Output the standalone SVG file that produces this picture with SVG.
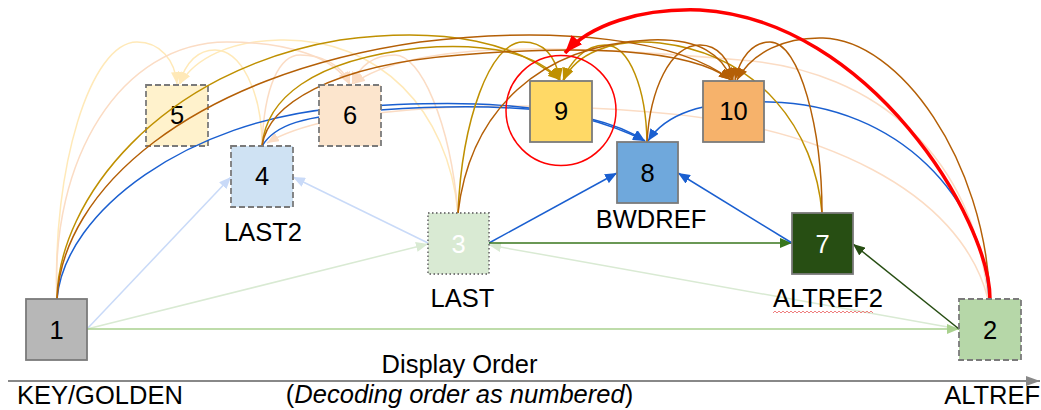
<svg xmlns="http://www.w3.org/2000/svg" width="1041" height="410" viewBox="0 0 1041 410">
  <defs>
    <style>
      text { font-family: "Liberation Sans", Arial, sans-serif; font-size: 25.5px; fill: #000; }
      .num { text-anchor: middle; }
      .lbl { text-anchor: middle; }
      .box { stroke: #7a7a7a; stroke-width: 1.8; }
      .dash { stroke-dasharray: 6 3; }
      .dot { stroke-dasharray: 1.5 2.5; }
      .arc { fill: none; stroke-width: 1.5; }
      .ly { stroke: #ffe9b8; }
      .lo { stroke: #fbdcc4; }
      .gold { stroke: #bf9000; }
      .brown { stroke: #b45f06; }
      .blue { stroke: #1a5fd0; }
      .lblue { stroke: #c9daf8; }
      .lgreen { stroke: #d9ead3; }
      .green { stroke: #a9d18e; }
      .dgreen { stroke: #38761d; }
      .dgreen2 { stroke: #274e13; }
    </style>
    <marker id="a-ly" viewBox="0 0 12 10" refX="12" refY="5" markerWidth="12" markerHeight="10" markerUnits="userSpaceOnUse" orient="auto"><path d="M0,0 L12,5 L0,10 z" fill="#ffe9b8"/></marker>
    <marker id="a-lo" viewBox="0 0 12 10" refX="12" refY="5" markerWidth="12" markerHeight="10" markerUnits="userSpaceOnUse" orient="auto"><path d="M0,0 L12,5 L0,10 z" fill="#fbdcc4"/></marker>
    <marker id="a-gold" viewBox="0 0 12 10" refX="12" refY="5" markerWidth="12" markerHeight="10" markerUnits="userSpaceOnUse" orient="auto"><path d="M0,0 L12,5 L0,10 z" fill="#bf9000"/></marker>
    <marker id="a-brown" viewBox="0 0 12 10" refX="12" refY="5" markerWidth="12" markerHeight="10" markerUnits="userSpaceOnUse" orient="auto"><path d="M0,0 L12,5 L0,10 z" fill="#b45f06"/></marker>
    <marker id="a-blue" viewBox="0 0 12 10" refX="12" refY="5" markerWidth="12" markerHeight="10" markerUnits="userSpaceOnUse" orient="auto"><path d="M0,0 L12,5 L0,10 z" fill="#1a5fd0"/></marker>
    <marker id="a-lblue" viewBox="0 0 12 10" refX="12" refY="5" markerWidth="12" markerHeight="10" markerUnits="userSpaceOnUse" orient="auto"><path d="M0,0 L12,5 L0,10 z" fill="#c9daf8"/></marker>
    <marker id="a-lgreen" viewBox="0 0 12 10" refX="12" refY="5" markerWidth="12" markerHeight="10" markerUnits="userSpaceOnUse" orient="auto"><path d="M0,0 L12,5 L0,10 z" fill="#d9ead3"/></marker>
    <marker id="a-green" viewBox="0 0 12 10" refX="12" refY="5" markerWidth="12" markerHeight="10" markerUnits="userSpaceOnUse" orient="auto"><path d="M0,0 L12,5 L0,10 z" fill="#a9d18e"/></marker>
    <marker id="a-dgreen" viewBox="0 0 12 10" refX="12" refY="5" markerWidth="12" markerHeight="10" markerUnits="userSpaceOnUse" orient="auto"><path d="M0,0 L12,5 L0,10 z" fill="#38761d"/></marker>
    <marker id="a-dgreen2" viewBox="0 0 12 10" refX="12" refY="5" markerWidth="12" markerHeight="10" markerUnits="userSpaceOnUse" orient="auto"><path d="M0,0 L12,5 L0,10 z" fill="#274e13"/></marker>
    <marker id="a-red" viewBox="0 0 18 14" refX="18" refY="7" markerWidth="18" markerHeight="14" markerUnits="userSpaceOnUse" orient="auto"><path d="M0,0 L18,7 L0,14 z" fill="#ff0000"/></marker>
    <marker id="a-axis" viewBox="0 0 14 10" refX="14" refY="5" markerWidth="14" markerHeight="10" markerUnits="userSpaceOnUse" orient="auto"><path d="M0,0 L14,5 L0,10 z" fill="#888888"/></marker>
  </defs>

  <rect width="1041" height="410" fill="#ffffff"/>

  <!-- frame 5 sits beneath the reference arcs -->
  <g id="node5">
    <rect class="box dash" x="146" y="85" width="62" height="61" fill="#fff2cc"/>
    <text class="num" x="177" y="124">5</text>
  </g>

  <g id="connectors">
    <!-- references of frame 5 -->
    <path class="arc ly" d="M57,299 C52,170 90,42 137,42 C160,42 175,60 177,84" marker-end="url(#a-ly)"/>
    <path class="arc ly" d="M262,146 C262,90 240,50 215,50 C198,50 186,62 179,84" marker-end="url(#a-ly)"/>
    <path class="arc ly" d="M458,213 C448,110 380,38 280,40 C230,41 195,58 180,84" marker-end="url(#a-ly)"/>
    <!-- references of frame 6 -->
    <path class="arc lo" d="M57,299 C50,160 120,42 227,42 C290,42 335,58 349,84" marker-end="url(#a-lo)"/>
    <path class="arc lo" d="M262,146 C264,85 280,55 300,55 C322,55 342,65 350,84" marker-end="url(#a-lo)"/>
    <path class="arc lo" d="M458,213 C450,120 420,55 395,55 C375,55 360,65 352,84" marker-end="url(#a-lo)"/>
    <path class="arc lo" d="M988,299 C975,160 880,70 740,60 C600,48 420,35 353,84" marker-end="url(#a-lo)"/>
    <path class="arc lo" d="M988,299 C960,190 820,125 650,112 C500,100 330,105 267,143" marker-end="url(#a-lo)"/>

    <!-- straight references -->
    <path class="arc lblue" d="M87,329 L231,177" marker-end="url(#a-lblue)"/>
    <path class="arc lblue" d="M428,243 L293,177" marker-end="url(#a-lblue)"/>
    <path class="arc lgreen" d="M87,329 L428,244" marker-end="url(#a-lgreen)"/>
    <path class="arc lgreen" d="M959,329 L489,245" marker-end="url(#a-lgreen)"/>
    <path class="arc green" d="M87,329 L959,329" marker-end="url(#a-green)"/>
    <path class="arc blue" d="M489,243 L617,173" marker-end="url(#a-blue)"/>
    <path class="arc dgreen" d="M489,243 L792,243" marker-end="url(#a-dgreen)"/>
    <path class="arc blue" d="M792,243 L678,173" marker-end="url(#a-blue)"/>
    <path class="arc dgreen2" d="M959,329 L853,244" marker-end="url(#a-dgreen2)"/>

    <!-- references of frame 8 -->
    <path class="arc blue" d="M57,299 C65,210 190,120 340,108 C450,100 560,98 645,141" marker-end="url(#a-blue)"/>
    <path class="arc blue" d="M262,146 C275,125 300,116 380,110 C480,103 590,105 645,141" marker-end="url(#a-blue)"/>
    <path class="arc blue" d="M989,299 C985,200 900,105 770,102 C700,100 665,115 648,141" marker-end="url(#a-blue)"/>

    <!-- references of frame 9 -->
    <path class="arc gold" d="M57,299 C58,200 160,70 340,40 C450,25 520,45 560,80" marker-end="url(#a-gold)"/>
    <path class="arc gold" d="M262,146 C266,100 310,60 420,48 C490,42 540,55 559,80" marker-end="url(#a-gold)"/>
    <path class="arc gold" d="M458,213 C462,120 490,42 523,42 C545,42 556,58 560,80" marker-end="url(#a-gold)"/>
    <path class="arc gold" d="M647,142 C646,90 630,45 605,45 C585,45 570,62 563,80" marker-end="url(#a-gold)"/>
    <path class="arc gold" d="M822,213 C815,130 760,55 660,43 C610,38 575,55 564,80" marker-end="url(#a-gold)"/>

    <!-- references of frame 10 -->
    <path class="arc brown" d="M57,299 C62,190 190,75 420,42 C560,25 680,40 731,80" marker-end="url(#a-brown)"/>
    <path class="arc brown" d="M262,146 C268,105 330,65 460,55 C580,45 690,48 731,80" marker-end="url(#a-brown)"/>
    <path class="arc brown" d="M458,213 C470,110 540,45 650,40 C700,38 722,55 732,80" marker-end="url(#a-brown)"/>
    <path class="arc brown" d="M647,142 C650,90 670,45 700,45 C718,45 730,60 733,80" marker-end="url(#a-brown)"/>
    <path class="arc brown" d="M822,213 C822,130 800,42 770,42 C752,42 740,58 735,80" marker-end="url(#a-brown)"/>
    <path class="arc brown" d="M990,299 C985,160 900,40 823,38 C785,37 752,52 737,80" marker-end="url(#a-brown)"/>

    <!-- highlighted reference from ALTREF -->
    <path fill="none" stroke="#ff0000" stroke-width="3.5" d="M990,299 C990,220 870,20 700,10 C640,8 590,25 565,53" marker-end="url(#a-red)"/>
  </g>

  <g id="node1">
    <rect class="box" x="26" y="299" width="61" height="61" fill="#b7b7b7"/>
    <text class="num" x="56.5" y="338.5">1</text>
  </g>
  <g id="node2">
    <rect class="box dash" x="959" y="299" width="62" height="61" fill="#b6d7a8"/>
    <text class="num" x="990" y="338.5">2</text>
  </g>
  <g id="node3">
    <rect class="box dot" x="428" y="213" width="61" height="61" fill="#d9ead3"/>
    <text class="num" x="458.5" y="252.5" style="fill:#ffffff">3</text>
  </g>
  <g id="node4">
    <rect class="box dash" x="231" y="146" width="62" height="61" fill="#cfe2f3"/>
    <text class="num" x="262" y="185">4</text>
  </g>
  <g id="node6">
    <rect class="box dash" x="319" y="85" width="62" height="61" fill="#fce5cd"/>
    <text class="num" x="350" y="124">6</text>
  </g>
  <g id="node7">
    <rect class="box" x="792" y="213" width="61" height="61" fill="#274e13"/>
    <text class="num" x="822.5" y="252.5" style="fill:#ffffff">7</text>
  </g>
  <g id="node8">
    <rect class="box" x="617" y="142" width="61" height="61" fill="#6fa8dc"/>
    <text class="num" x="647.5" y="181.5">8</text>
  </g>
  <g id="node9">
    <rect class="box" x="530" y="81" width="62" height="61" fill="#ffd966"/>
    <text class="num" x="561" y="120">9</text>
  </g>
  <g id="node10">
    <rect class="box" x="703" y="81" width="61" height="61" fill="#f6b26b"/>
    <text class="num" x="733.5" y="120">10</text>
  </g>

  <!-- emphasis ring around frame 9 -->
  <circle cx="561" cy="110.5" r="55" fill="none" stroke="#ff0000" stroke-width="1.5"/>

  <!-- reference slot labels -->
  <g id="labels">
    <text class="lbl" x="263" y="241">LAST2</text>
    <text class="lbl" x="462.5" y="307">LAST</text>
    <text class="lbl" x="651" y="228">BWDREF</text>
    <text class="lbl" x="828" y="307">ALTREF2</text>
    <path d="M773,313 l2,-2 l2,2 l2,-2 l2,2 l2,-2 l2,2 l2,-2 l2,2 l2,-2 l2,2 l2,-2 l2,2 l2,-2 l2,2 l2,-2 l2,2 l2,-2 l2,2 l2,-2 l2,2 l2,-2 l2,2 l2,-2 l2,2 l2,-2 l2,2 l2,-2 l2,2 l2,-2 l2,2 l2,-2 l2,2 l2,-2 l2,2 l2,-2 l2,2 l2,-2 l2,2 l2,-2 l2,2 l2,-2 l2,2 l2,-2 l2,2 l2,-2 l2,2 l2,-2 l2,2 l2,-2 l2,2" fill="none" stroke="#ef8080" stroke-width="1"/>
  </g>

  <!-- display-order axis -->
  <g id="axis">
    <path d="M8,381 L1040,381" stroke="#888888" stroke-width="2" fill="none" marker-end="url(#a-axis)"/>
    <text class="lbl" x="459.5" y="373">Display Order</text>
    <text class="lbl" x="459.5" y="403">(<tspan font-style="italic">Decoding order as numbered</tspan>)</text>
    <text x="17" y="404">KEY/GOLDEN</text>
    <text x="1040" y="404" text-anchor="end">ALTREF</text>
  </g>
</svg>
